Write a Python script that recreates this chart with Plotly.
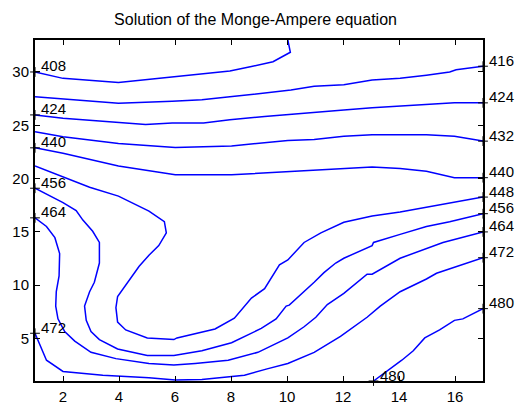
import plotly.graph_objects as go

# Contour lines of the solution (data coordinates)
x_408 = [1.0, 2.0, 3.98, 5.90, 6.96, 7.96, 8.73, 9.50, 10.12, 10.08, 10.03]
y_408 = [30.0, 29.40, 29.02, 29.56, 29.85, 30.09, 30.51, 30.96, 31.85, 32.39, 33.0]

x_416 = [1.0, 2.0, 3.98, 5.90, 6.96, 7.96, 8.96, 10.14, 10.97, 12.03, 13.04, 14.04, 14.98, 15.81, 16.04, 17.0]
y_416 = [27.67, 27.46, 27.07, 27.25, 27.40, 27.67, 27.97, 28.30, 28.66, 28.80, 29.25, 29.40, 29.70, 30.0, 30.21, 30.54]

x_424 = [1.0, 2.0, 4.95, 5.90, 7.02, 7.96, 9.20, 10.26, 11.21, 12.03, 13.04, 14.04, 14.98, 15.98, 17.0]
y_424 = [25.97, 25.66, 25.07, 25.22, 25.22, 25.52, 25.82, 26.02, 26.26, 26.42, 26.65, 26.80, 26.96, 27.10, 27.10]

x_432 = [1.0, 2.0, 3.98, 6.01, 8.02, 10.03, 10.97, 12.03, 13.04, 14.98, 15.98, 17.0]
y_432 = [24.38, 23.93, 23.28, 22.92, 23.06, 23.57, 23.66, 23.96, 24.11, 24.11, 23.96, 23.51]

x_440 = [1.0, 2.0, 3.98, 6.01, 8.02, 12.03, 13.04, 14.04, 14.98, 15.98, 17.0]
y_440 = [22.88, 22.38, 21.18, 20.35, 20.35, 20.95, 21.09, 20.95, 20.68, 20.08, 20.08]

x_448 = [1.0, 2.0, 2.95, 3.98, 5.07, 5.62, 5.69, 5.42, 5.07, 4.72, 4.36, 3.95, 3.89, 3.95, 4.24, 5.01,
         5.96, 6.07, 7.43, 8.12, 8.73, 9.20, 9.73, 10.03, 10.61, 11.21, 12.03, 13.04, 14.04, 14.98, 15.98, 17.0]
y_448 = [21.18, 20.14, 19.18, 18.35, 16.94, 15.95, 14.90, 13.71, 12.81, 11.76, 10.42, 8.93, 7.88, 6.53, 5.79, 5.04,
         4.89, 5.04, 5.88, 6.89, 8.78, 9.67, 11.91, 12.36, 14.0, 14.90, 15.89, 16.49, 16.85, 17.30, 17.74, 18.26]

x_456 = [1.0, 2.0, 2.47, 2.71, 3.06, 3.30, 3.30, 3.12, 2.95, 2.77, 2.83, 3.0, 3.30, 3.95, 5.01, 5.96, 6.96,
         8.02, 9.08, 9.61, 9.97, 10.08, 10.97, 11.32, 11.74, 12.03, 13.04, 13.09, 14.04, 14.98, 15.81, 17.0]
y_456 = [19.09, 17.74, 17.0, 16.10, 15.05, 14.0, 12.07, 10.27, 9.38, 8.03, 6.69, 5.64, 4.89, 4.0, 3.39, 3.39, 3.84,
         4.59, 5.93, 6.83, 8.03, 8.12, 10.27, 11.17, 12.07, 12.52, 13.71, 14.0, 14.76, 15.50, 15.95, 16.70]

x_464 = [1.0, 1.41, 1.71, 1.88, 1.86, 1.76, 1.74, 1.82, 2.06, 2.42, 3.0, 3.89, 5.07, 5.96, 6.72, 7.90,
         8.96, 10.03, 10.61, 11.03, 11.44, 12.03, 12.86, 13.04, 14.04, 15.57, 17.0]
y_464 = [16.31, 15.50, 14.45, 12.96, 10.87, 9.38, 8.03, 6.83, 5.64, 4.74, 3.69, 3.10, 2.65, 2.50, 2.65, 2.95,
         3.69, 5.04, 6.09, 6.98, 8.17, 9.22, 11.02, 11.02, 12.52, 14.0, 14.99]

x_472 = [1.0, 1.18, 1.41, 2.0, 3.42, 5.07, 6.01, 6.96, 8.48, 9.29, 10.03, 10.97, 11.91, 12.86, 13.33,
         14.04, 14.98, 15.34, 16.28, 17.0]
y_472 = [5.48, 4.29, 2.95, 1.90, 1.54, 1.30, 1.09, 1.15, 1.54, 2.14, 2.65, 3.69, 5.19, 6.98, 8.03,
         9.38, 10.57, 11.11, 11.91, 12.57]

x_480 = [13.09, 14.10, 14.51, 14.92, 15.45, 15.98, 16.28, 17.0]
y_480 = [1.0, 2.95, 3.84, 5.04, 5.79, 6.69, 6.83, 7.79]

levels = [408, 416, 424, 432, 440, 448, 456, 464, 472, 480]
line_x = [x_408, x_416, x_424, x_432, x_440, x_448, x_456, x_464, x_472, x_480]
line_y = [y_408, y_416, y_424, y_432, y_440, y_448, y_456, y_464, y_472, y_480]

# which contour lines carry a label at their start / end point
start_labels = [408, 424, 440, 456, 464, 472, 480]
end_labels = [416, 424, 432, 440, 448, 456, 464, 472, 480]

x_ticks = [2, 4, 6, 8, 10, 12, 14, 16]
y_ticks = [5, 10, 15, 20, 25, 30]

title_text = "Solution of the Monge-Ampere equation"

FONT = "Liberation Sans, Arial, Helvetica, sans-serif"

fig = go.Figure()
for lev, xs, ys in zip(levels, line_x, line_y):
    fig.add_trace(go.Scatter(x=xs, y=ys, mode="lines",
                             line=dict(color="#0000ff", width=1.5),
                             hoverinfo="skip", showlegend=False, name=str(lev)))

lab_x, lab_y, annos = [], [], []
for lev, xs, ys in zip(levels, line_x, line_y):
    pts = []
    if lev in start_labels:
        pts.append((xs[0], ys[0]))
    if lev in end_labels:
        pts.append((xs[-1], ys[-1]))
    for (px, py) in pts:
        lab_x.append(px)
        lab_y.append(py)
        annos.append(dict(x=px, y=py, xref="x", yref="y", text=str(lev), showarrow=False,
                          xanchor="left", yanchor="middle", xshift=5, yshift=6, borderpad=0,
                          font=dict(family=FONT, size=15, color="black")))

fig.add_trace(go.Scatter(x=lab_x, y=lab_y, mode="markers",
                         marker=dict(symbol="cross-thin", size=7, line=dict(color="black", width=1)),
                         hoverinfo="skip", showlegend=False, cliponaxis=False))

axis_common = dict(showline=True, linecolor="black", linewidth=2, mirror="ticks",
                   ticks="inside", ticklen=5, tickwidth=1.2, tickcolor="black",
                   showgrid=False, zeroline=False,
                   tickfont=dict(family=FONT, size=15, color="black"))

fig.update_layout(
    width=518, height=417,
    margin=dict(l=32, r=35, t=40, b=20),
    paper_bgcolor="white", plot_bgcolor="white",
    title=dict(text=title_text, x=0.4923, xanchor="center", xref="paper",
               y=1 - 19 / 417, yanchor="middle", yref="container",
               font=dict(family=FONT, size=16, color="black")),
    xaxis=dict(range=[1, 17], tickvals=x_ticks, ticklabelstandoff=1, **axis_common),
    yaxis=dict(range=[1, 33], tickvals=y_ticks, ticklabelstandoff=1, **axis_common),
    annotations=annos,
)

fig.write_html("out.html")
